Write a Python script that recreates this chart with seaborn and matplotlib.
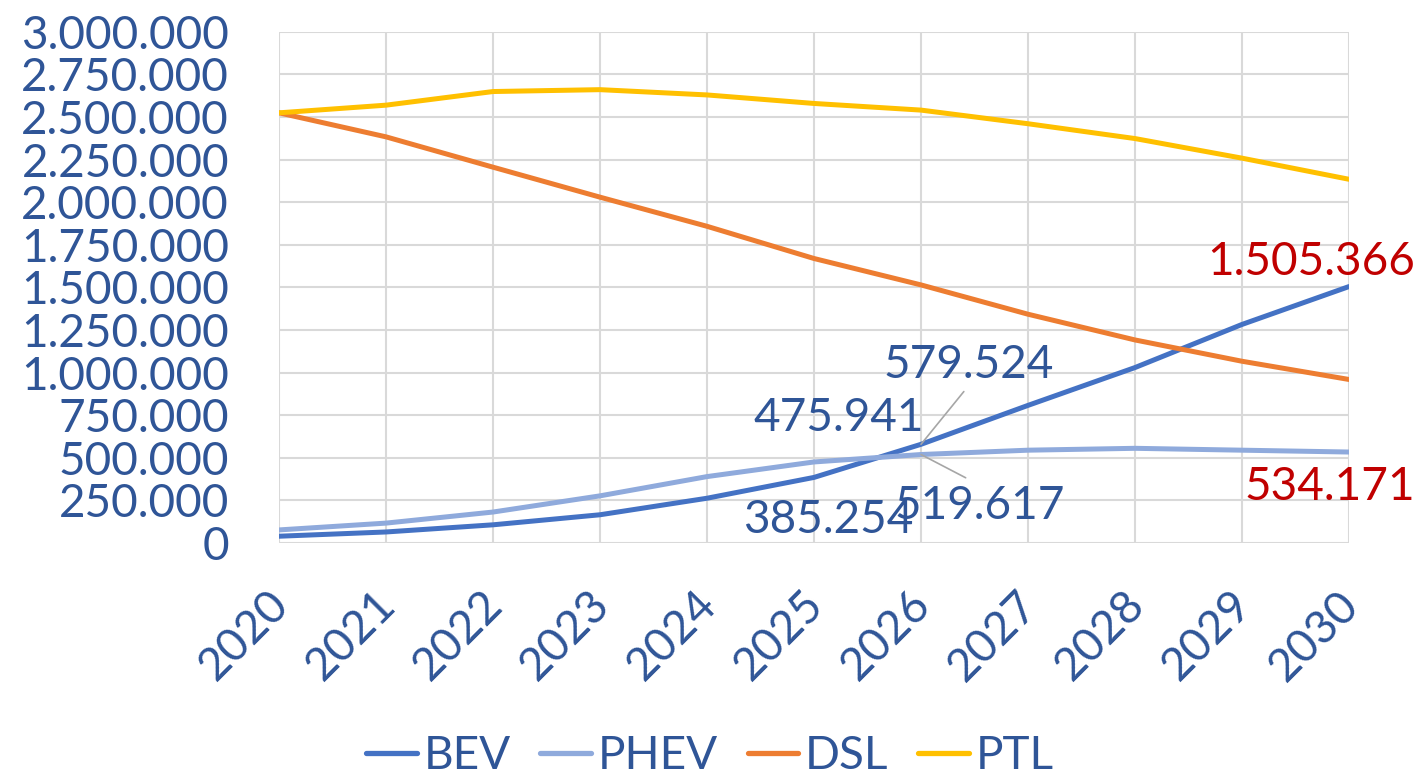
import pandas as pd
import matplotlib.pyplot as plt
import matplotlib.transforms as mtransforms
import seaborn as sns
from matplotlib.ticker import FuncFormatter, MultipleLocator

# Data
years = [2020, 2021, 2022, 2023, 2024, 2025, 2026, 2027, 2028, 2029, 2030]
bev = [40000, 65000, 107000, 166000, 263000, 385254, 579524, 808000, 1030000, 1283000, 1505366]
phev = [77000, 117000, 182000, 277000, 390000, 475941, 519617, 545000, 556000, 545000, 534171]
dsl = [2525000, 2384000, 2206000, 2030000, 1859000, 1670000, 1515000, 1343000, 1192000, 1067000, 960000]
ptl = [2525000, 2570000, 2650000, 2661000, 2630000, 2580000, 2541000, 2461000, 2374000, 2259000, 2135000]

series_names = ["BEV", "PHEV", "DSL", "PTL"]
colors = ["#4472C4", "#8FAADC", "#ED7D31", "#FFC000"]
text_blue = "#2F5597"
label_red = "#C00000"

df = pd.DataFrame({"year": years, "BEV": bev, "PHEV": phev, "DSL": dsl, "PTL": ptl})
long_df = df.melt(id_vars="year", var_name="series", value_name="value")

sns.set_style("white")
plt.rcParams["font.family"] = ["Lato", "DejaVu Sans"]

fig = plt.figure(figsize=(14.2, 7.78), dpi=100)
ax = fig.add_axes([0.1965, 0.302, 0.7535, 0.657])

sns.lineplot(data=long_df, x="year", y="value", hue="series", hue_order=series_names,
             palette=colors, linewidth=3.6, ax=ax, legend=False)

ax.set_xlim(2020, 2030)
ax.set_ylim(0, 3000000)
ax.xaxis.set_major_locator(MultipleLocator(1))
ax.yaxis.set_major_locator(MultipleLocator(250000))
ax.yaxis.set_major_formatter(FuncFormatter(lambda v, p: f"{int(v):,}".replace(",", ".")))
ax.grid(True, color="#D9D9D9", linewidth=1.5)
ax.set_axisbelow(True)
for s in ax.spines.values():
    s.set_visible(False)
ax.set_xlabel("")
ax.set_ylabel("")
ax.tick_params(axis="y", length=0, pad=36, labelsize=33, labelcolor=text_blue)
ax.tick_params(axis="x", length=0, pad=29, labelsize=33, labelcolor=text_blue)
shift = mtransforms.ScaledTranslation(-0.12, 0, fig.dpi_scale_trans)
for lbl in ax.get_xticklabels():
    lbl.set_rotation(45)
    lbl.set_ha("right")
    lbl.set_rotation_mode("anchor")
    lbl.set_transform(lbl.get_transform() + shift)

# Data labels
fmt = lambda v: f"{int(v):,}".replace(",", ".")
i25 = years.index(2025)
i26 = years.index(2026)
i30 = years.index(2030)
lab = dict(textcoords="offset points", ha="center", va="center", fontsize=33)
ax.annotate(fmt(bev[i25]), (2025, bev[i25]), xytext=(10, -31), color=text_blue, **lab)
ax.annotate(fmt(phev[i25]), (2025, phev[i25]), xytext=(18, 32), color=text_blue, **lab)
ax.annotate(fmt(bev[i26]), (2026, bev[i26]), xytext=(34, 57), color=text_blue,
            arrowprops=dict(arrowstyle="-", color="#A6A6A6", lw=1.2, shrinkA=2, shrinkB=0,
                            relpos=(0.5, 0)), **lab)
ax.annotate(fmt(phev[i26]), (2026, phev[i26]), xytext=(42, -37), color=text_blue,
            arrowprops=dict(arrowstyle="-", color="#A6A6A6", lw=1.2, shrinkA=6, shrinkB=0,
                            relpos=(0.5, 1)), **lab)
ax.annotate(fmt(bev[i30]), (2030, bev[i30]), xytext=(-27, 18), color=label_red,
            annotation_clip=False, **lab)
ax.annotate(fmt(phev[i30]), (2030, phev[i30]), xytext=(-14, -25), color=label_red,
            annotation_clip=False, **lab)

handles = [plt.Line2D([], [], color=c, linewidth=3.8, solid_capstyle="round") for c in colors]
leg = fig.legend(handles, series_names, loc="center", bbox_to_anchor=(0.5, 0.028), ncol=4,
                 frameon=False, fontsize=33, handlelength=1.1, handletextpad=0.15,
                 columnspacing=0.65, labelcolor=text_blue)

fig.savefig("out.png", dpi=100)
